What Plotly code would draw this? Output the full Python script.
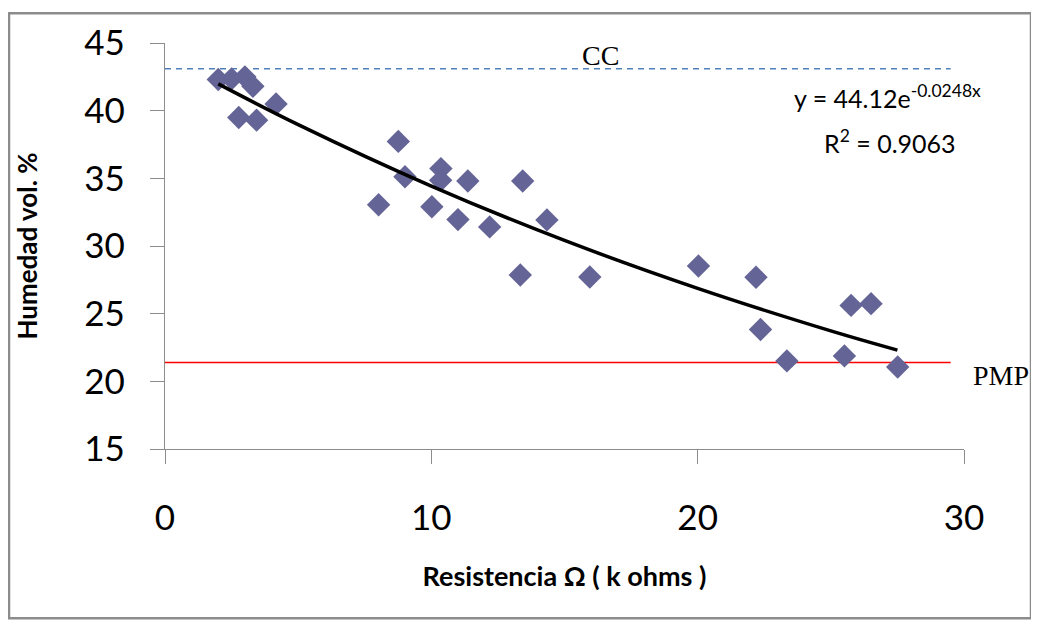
import plotly.graph_objects as go

# ---- data ----
resistencia = [2.0, 2.5, 3.0, 3.3, 4.17, 2.77, 3.44, 8.76, 9.01, 8.02, 10.36, 10.35, 10.02,
               11.37, 11.0, 12.19, 13.43, 14.34, 13.34, 15.95, 20.03, 22.19, 22.36, 23.35,
               25.51, 25.76, 26.51, 27.51]
humedad = [42.3, 42.35, 42.5, 41.8, 40.5, 39.5, 39.3, 37.73, 35.12, 33.05, 35.72, 34.85, 32.9,
           34.8, 31.95, 31.41, 34.8, 31.93, 27.86, 27.71, 28.52, 27.69, 23.83, 21.51,
           21.88, 25.61, 25.74, 21.06]

trend_x = [2, 5, 10, 15, 20, 25, 27.5]
trend_y = [41.98, 38.97, 34.43, 30.41, 26.87, 23.73, 22.31]

cc_value = 43.1
pmp_value = 21.4
ref_x = [0, 29.5]

x_ticks = [0, 10, 20, 30]
y_ticks = [15, 20, 25, 30, 35, 40, 45]

# ---- layout geometry (pixels, page coords minus the 8px body margin) ----
OFF = 8
W, H = 1039, 626
L, T = 165 - OFF, 39 - OFF
PW, PH = 799, 410
R, B = W - L - PW, H - T - PH


def px(x):
    return (x - OFF - L) / PW


def py(y):
    return (T + PH - (y - OFF)) / PH


fig = go.Figure()

fig.add_trace(go.Scatter(
    x=ref_x, y=[cc_value, cc_value], mode="lines",
    line=dict(color="#4F81BD", width=1.5, dash="6px,5px"),
    hoverinfo="skip", showlegend=False))
fig.add_trace(go.Scatter(
    x=ref_x, y=[pmp_value, pmp_value], mode="lines",
    line=dict(color="#FF0000", width=1.5),
    hoverinfo="skip", showlegend=False))
fig.add_trace(go.Scatter(
    x=resistencia, y=humedad, mode="markers",
    marker=dict(symbol="diamond", size=18, color="#646496", line=dict(width=0)),
    showlegend=False))
fig.add_trace(go.Scatter(
    x=trend_x, y=trend_y, mode="lines",
    line=dict(color="black", width=3.5, shape="spline"),
    showlegend=False))

axis_common = dict(showgrid=False, zeroline=False, showline=True, linecolor="#8C8C8C",
                   linewidth=1.2, ticks="outside", ticklen=14, tickcolor="#8C8C8C",
                   tickfont=dict(family="Lato", size=35, color="black"))

fig.update_xaxes(range=[0, 30], tickvals=x_ticks, ticklabelstandoff=24,
                 title=dict(text="<b>Resistencia Ω ( k ohms )</b>",
                            font=dict(family="Lato", size=27, color="black"), standoff=31),
                 **axis_common)
fig.update_yaxes(range=[15, 45], tickvals=y_ticks, ticklabelstandoff=18,
                 title=dict(text="<b>Humedad vol. %</b>",
                            font=dict(family="Lato", size=26, color="black"), standoff=39),
                 **axis_common)

ann = []
ann.append(dict(x=px(600), y=py(52), text="CC",
                font=dict(family="Liberation Serif", size=28, color="black")))
ann.append(dict(x=px(1001), y=py(375), text="PMP",
                font=dict(family="Liberation Serif", size=28, color="black")))
ann.append(dict(x=px(792), y=py(93), xanchor="left",
                text="y = 44.12e<sup>-0.0248x</sup>",
                font=dict(family="Lato", size=25, color="black")))
ann.append(dict(x=px(822), y=py(138), xanchor="left",
                text="R<sup>2</sup> = 0.9063",
                font=dict(family="Lato", size=25, color="black")))
for a in ann:
    a.setdefault("xanchor", "center")
    a.update(xref="paper", yref="paper", yanchor="middle", showarrow=False)

fig.update_layout(
    width=W, height=H,
    margin=dict(l=L, r=R, t=T, b=B),
    paper_bgcolor="white", plot_bgcolor="white",
    annotations=ann,
    shapes=[dict(type="rect", xref="paper", yref="paper",
                 x0=px(9), x1=px(1031), y0=py(620), y1=py(9),
                 line=dict(color="#8C8C8C", width=2.5), layer="below")],
)

fig.write_html("out.html")
